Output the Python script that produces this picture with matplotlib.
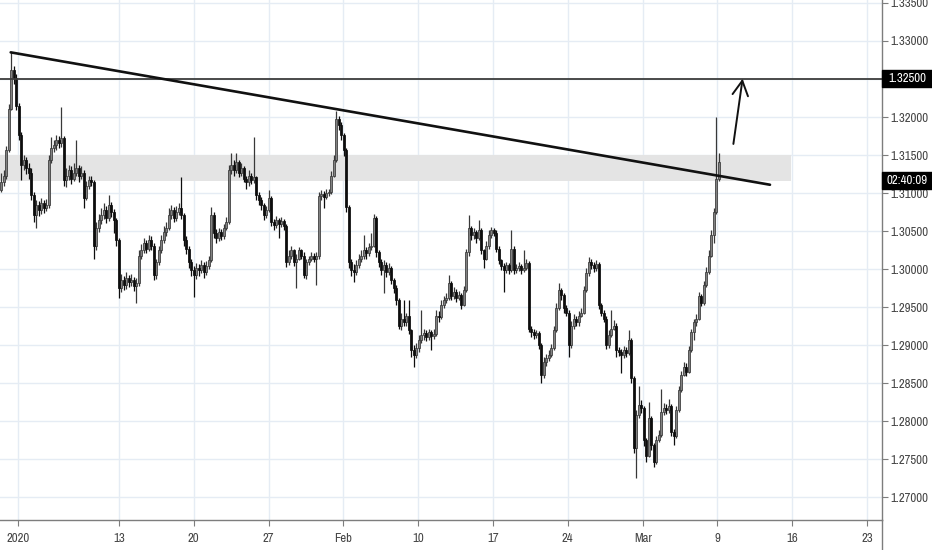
import matplotlib
matplotlib.use("Agg")
import matplotlib.pyplot as plt
import matplotlib.transforms as mtransforms
from matplotlib.patches import Rectangle
from matplotlib import font_manager
import numpy as np

# ---------------- data (GBPUSD, 4H bars) ----------------
first_open = 1.3104
closes = [
 1.3114,1.3123,1.3157,1.3211,1.3262,1.3251,1.3215,1.3176,1.3137,1.3144,
 1.3133,1.3127,1.3097,1.3071,1.3084,1.3078,1.3087,1.3080,1.3084,1.3144,
 1.3159,1.3163,1.3170,1.3166,1.3172,1.3117,1.3123,1.3130,1.3119,1.3127,
 1.3133,1.3123,1.3127,1.3093,1.3110,1.3117,1.3114,1.3030,1.3054,1.3065,
 1.3071,1.3078,1.3067,1.3084,1.3075,1.3065,1.3038,1.2975,1.2986,1.2979,
 1.2988,1.2983,1.2986,1.2978,1.2982,1.3018,1.3025,1.3034,1.3027,1.3038,
 1.3031,1.2992,1.3009,1.3025,1.3038,1.3049,1.3054,1.3071,1.3078,1.3067,
 1.3075,1.3080,1.3071,1.3038,1.3027,1.3009,1.2999,1.2992,1.3001,1.2999,
 1.3005,1.2996,1.3004,1.3012,1.3071,1.3048,1.3041,1.3049,1.3044,1.3054,
 1.3062,1.3130,1.3137,1.3130,1.3141,1.3127,1.3133,1.3119,1.3114,1.3123,
 1.3117,1.3121,1.3097,1.3091,1.3084,1.3071,1.3078,1.3093,1.3062,1.3058,
 1.3065,1.3060,1.3064,1.3057,1.3009,1.3018,1.3025,1.3009,1.3014,1.3025,
 1.3018,1.2992,1.3009,1.3014,1.3018,1.3014,1.3017,1.3096,1.3099,1.3095,
 1.3100,1.3101,1.3123,1.3144,1.3198,1.3189,1.3176,1.3157,1.3082,1.3009,
 1.2999,1.2996,1.3005,1.3014,1.3018,1.3025,1.3021,1.3029,1.3031,1.3067,
 1.3022,1.3009,1.2999,1.3005,1.2996,1.3001,1.2986,1.2975,1.2960,1.2926,
 1.2935,1.2930,1.2938,1.2920,1.2894,1.2887,1.2896,1.2907,1.2913,1.2916,
 1.2911,1.2917,1.2912,1.2915,1.2939,1.2937,1.2953,1.2960,1.2962,1.2982,
 1.2965,1.2970,1.2962,1.2966,1.2953,1.2973,1.3022,1.3054,1.3045,1.3049,
 1.3041,1.3052,1.3025,1.3014,1.3031,1.3045,1.3051,1.3048,1.3027,1.3012,
 1.3004,1.2999,1.3005,1.2999,1.3027,1.2999,1.3001,1.3004,1.2999,1.3001,
 1.3008,1.2922,1.2917,1.2913,1.2916,1.2900,1.2861,1.2878,1.2883,1.2887,
 1.2896,1.2920,1.2949,1.2973,1.2966,1.2949,1.2943,1.2900,1.2926,1.2935,
 1.2930,1.2939,1.2943,1.2973,1.2995,1.3009,1.3005,1.3001,1.3007,1.2953,
 1.2943,1.2935,1.2900,1.2913,1.2922,1.2926,1.2894,1.2891,1.2887,1.2894,
 1.2890,1.2907,1.2857,1.2765,1.2808,1.2821,1.2817,1.2776,1.2755,1.2804,
 1.2769,1.2746,1.2776,1.2782,1.2812,1.2817,1.2815,1.2820,1.2786,1.2781,
 1.2815,1.2841,1.2861,1.2872,1.2865,1.2894,1.2917,1.2930,1.2935,1.2965,
 1.2956,1.2979,1.2996,1.3018,1.3045,1.3075,1.3119,1.3141,
]
highs = [
 1.3126,1.3130,1.3162,1.3217,1.3285,1.3267,1.3257,1.3219,1.3180,1.3150,
 1.3148,1.3140,1.3133,1.3101,1.3091,1.3090,1.3093,1.3091,1.3092,1.3150,
 1.3174,1.3170,1.3176,1.3175,1.3213,1.3175,1.3133,1.3137,1.3136,1.3140,
 1.3170,1.3137,1.3136,1.3130,1.3116,1.3122,1.3123,1.3117,1.3062,1.3073,
 1.3080,1.3087,1.3083,1.3097,1.3088,1.3079,1.3067,1.3041,1.2994,1.2991,
 1.2996,1.2992,1.2994,1.2990,1.2988,1.3025,1.3033,1.3041,1.3038,1.3045,
 1.3043,1.3035,1.3014,1.3030,1.3045,1.3057,1.3062,1.3080,1.3084,1.3082,
 1.3083,1.3087,1.3121,1.3074,1.3043,1.3030,1.3014,1.3004,1.3008,1.3007,
 1.3012,1.3009,1.3011,1.3018,1.3082,1.3075,1.3053,1.3054,1.3053,1.3060,
 1.3069,1.3137,1.3153,1.3143,1.3153,1.3144,1.3140,1.3136,1.3123,1.3130,
 1.3127,1.3174,1.3123,1.3101,1.3095,1.3087,1.3083,1.3104,1.3096,1.3066,
 1.3070,1.3067,1.3069,1.3066,1.3060,1.3025,1.3030,1.3027,1.3020,1.3029,
 1.3027,1.3022,1.3014,1.3018,1.3022,1.3021,1.3022,1.3101,1.3104,1.3103,
 1.3105,1.3106,1.3129,1.3150,1.3208,1.3202,1.3193,1.3179,1.3159,1.3084,
 1.3014,1.3007,1.3012,1.3020,1.3025,1.3045,1.3029,1.3034,1.3048,1.3073,
 1.3070,1.3025,1.3013,1.3012,1.3009,1.3008,1.3004,1.2988,1.2979,1.2962,
 1.2942,1.2960,1.2943,1.2960,1.2922,1.2900,1.2903,1.2913,1.2946,1.2921,
 1.2920,1.2922,1.2920,1.2921,1.2946,1.2945,1.2960,1.2965,1.2969,1.2992,
 1.2985,1.2977,1.2974,1.2972,1.2969,1.2978,1.3027,1.3071,1.3057,1.3054,
 1.3052,1.3065,1.3054,1.3027,1.3037,1.3051,1.3056,1.3054,1.3051,1.3030,
 1.3014,1.3008,1.3009,1.3008,1.3051,1.3030,1.3007,1.3009,1.3007,1.3025,
 1.3013,1.3011,1.2925,1.2921,1.2920,1.2919,1.2903,1.2885,1.2889,1.2894,
 1.2902,1.2925,1.2955,1.2982,1.2975,1.2969,1.2953,1.2946,1.2932,1.2941,
 1.2939,1.2945,1.2949,1.2978,1.3001,1.3016,1.3014,1.3009,1.3012,1.3009,
 1.2956,1.2947,1.2938,1.2920,1.2946,1.2933,1.2929,1.2898,1.2895,1.2899,
 1.2898,1.2920,1.2909,1.2860,1.2815,1.2847,1.2828,1.2820,1.2778,1.2825,
 1.2807,1.2772,1.2781,1.2789,1.2843,1.2824,1.2823,1.2830,1.2823,1.2790,
 1.2820,1.2846,1.2866,1.2878,1.2877,1.2899,1.2922,1.2935,1.2941,1.2970,
 1.2968,1.2985,1.3003,1.3025,1.3052,1.3080,1.3200,1.3153,
]
lows = [
 1.3101,1.3109,1.3119,1.3154,1.3209,1.3244,1.3209,1.3170,1.3117,1.3130,
 1.3125,1.3119,1.3091,1.3062,1.3054,1.3070,1.3073,1.3074,1.3077,1.3080,
 1.3140,1.3154,1.3157,1.3159,1.3161,1.3110,1.3108,1.3117,1.3112,1.3116,
 1.3122,1.3114,1.3118,1.3080,1.3091,1.3106,1.3109,1.3014,1.3025,1.3049,
 1.3060,1.3066,1.3061,1.3064,1.3069,1.3048,1.3031,1.2962,1.2970,1.2973,
 1.2974,1.2977,1.2978,1.2972,1.2956,1.2978,1.3013,1.3021,1.3021,1.3024,
 1.3025,1.2986,1.2987,1.3005,1.3021,1.3034,1.3044,1.3051,1.3066,1.3062,
 1.3064,1.3071,1.3066,1.3031,1.3020,1.3001,1.2991,1.2964,1.2987,1.2991,
 1.2995,1.2988,1.2992,1.3000,1.3009,1.3041,1.3034,1.3037,1.3038,1.3040,
 1.3051,1.3060,1.3125,1.3123,1.3126,1.3121,1.3122,1.3114,1.3106,1.3110,
 1.3112,1.3113,1.3091,1.3084,1.3078,1.3065,1.3067,1.3075,1.3057,1.3052,
 1.3054,1.3041,1.3056,1.3052,1.3003,1.3005,1.3014,1.3004,1.2975,1.3012,
 1.3013,1.2988,1.2987,1.3005,1.3011,1.3009,1.2979,1.3014,1.3091,1.3080,
 1.3092,1.3096,1.3099,1.3121,1.3141,1.3183,1.3170,1.3149,1.3075,1.3001,
 1.2991,1.2983,1.2992,1.3001,1.3009,1.3014,1.3014,1.3017,1.3025,1.3029,
 1.3016,1.3003,1.2992,1.2969,1.2990,1.2992,1.2981,1.2969,1.2953,1.2921,
 1.2920,1.2925,1.2926,1.2915,1.2885,1.2872,1.2883,1.2891,1.2903,1.2907,
 1.2906,1.2907,1.2894,1.2908,1.2912,1.2930,1.2934,1.2949,1.2955,1.2960,
 1.2960,1.2961,1.2957,1.2959,1.2948,1.2951,1.2970,1.3018,1.3038,1.3040,
 1.3035,1.3038,1.3020,1.3001,1.3012,1.3027,1.3041,1.3043,1.3022,1.3007,
 1.2999,1.2970,1.2995,1.2994,1.2996,1.2994,1.2995,1.2998,1.2994,1.2996,
 1.2999,1.2917,1.2911,1.2908,1.2909,1.2895,1.2850,1.2857,1.2873,1.2880,
 1.2885,1.2894,1.2917,1.2946,1.2960,1.2943,1.2938,1.2885,1.2897,1.2922,
 1.2925,1.2926,1.2937,1.2941,1.2970,1.2991,1.3000,1.2996,1.2998,1.2948,
 1.2938,1.2930,1.2895,1.2897,1.2911,1.2920,1.2885,1.2886,1.2864,1.2883,
 1.2885,1.2887,1.2851,1.2759,1.2725,1.2804,1.2811,1.2768,1.2746,1.2753,
 1.2762,1.2740,1.2744,1.2773,1.2780,1.2808,1.2810,1.2811,1.2781,1.2769,
 1.2778,1.2812,1.2838,1.2859,1.2860,1.2863,1.2891,1.2907,1.2926,1.2933,
 1.2951,1.2953,1.2977,1.2994,1.3016,1.3035,1.3073,1.3116,
]
opens = [first_open] + closes[:-1]

tick_labels = ["2020", "13", "20", "27", "Feb", "10", "17", "24", "Mar", "9", "16", "23"]
tick_bars = [6.7, 47.1, 77.0, 107.0, 136.9, 166.8, 196.7, 226.6, 256.6, 286.5, 316.4, 346.3]

price_ticks = [1.270, 1.275, 1.280, 1.285, 1.290, 1.295, 1.300, 1.305,
               1.310, 1.315, 1.320, 1.325, 1.330, 1.335]

resistance_level = 1.32500
zone_low, zone_high = 1.3116, 1.3150
zone_end_bar = 316.0
trend_end_bar, trend_end_price = 307.5, 1.3111
arrow_start = (292.7, 1.3161)
arrow_end = (296.7, 1.3254)
countdown_text = "02:40:09"
countdown_price = 1.3117

# ---------------- style ----------------
fonts = font_manager.fontManager.ttflist
avail = {f.name for f in fonts}
narrow = None
for f in fonts:
    nm = f.name
    if ("Narrow" in nm or "Condensed" in nm) and "Bold" not in nm and "Italic" not in nm:
        narrow = nm
        break
cond_stretch = None
if narrow is None:
    for f in fonts:
        if f.name in ("Noto Sans", "Open Sans", "Roboto") and str(f.stretch) in (
                "condensed", "semi-condensed", "500", "625", "750", "extra-condensed") \
                and f.weight in (400, "normal", "regular") and f.style == "normal":
            narrow = f.name
            cond_stretch = f.stretch
            break
fam = ([narrow] if narrow else []) + [f for f in ["Liberation Sans", "DejaVu Sans"] if f in avail]
plt.rcParams["font.family"] = fam
if cond_stretch is not None:
    plt.rcParams["font.stretch"] = cond_stretch
label_size = 9.2 if narrow else 7.4

W, H = 932, 550
fig = plt.figure(figsize=(W / 100, H / 100), dpi=100)
fig.patch.set_facecolor("white")
ax = fig.add_axes([0, 30 / H, 882 / W, 520 / H])
ax.set_facecolor("white")

n = len(closes)
x = np.arange(n)
o = np.array(opens); c = np.array(closes); h = np.array(highs); l = np.array(lows)
up = c >= o

up_face, up_edge = "#828282", "#383838"
dn_face = "#0d0d0d"

# wicks
ax.vlines(x[up], l[up], h[up], color=up_edge, lw=0.9, zorder=3)
ax.vlines(x[~up], l[~up], h[~up], color=dn_face, lw=0.9, zorder=3)
# bodies
body_bot = np.minimum(o, c)
body_h = np.maximum(np.abs(c - o), 0.00005)
bw = 0.9
ax.bar(x[up], body_h[up], bottom=body_bot[up], width=bw, color=up_face,
       edgecolor=up_edge, linewidth=0.55, zorder=4)
ax.bar(x[~up], body_h[~up], bottom=body_bot[~up], width=bw, color=dn_face,
       edgecolor=dn_face, linewidth=0.55, zorder=4)

# axes limits (price scale)
ax.set_xlim(-0.48, 352.3)
ax.set_ylim(1.26704, 1.33538)

# grid
grid_c = "#e5ecf4"
for tb in tick_bars:
    ax.axvline(tb, color=grid_c, lw=1, zorder=0)
for pt in price_ticks:
    ax.axhline(pt, color=grid_c, lw=1, zorder=0)

# zone
ax.add_patch(Rectangle((-0.48, zone_low), zone_end_bar + 0.48, zone_high - zone_low,
                       facecolor="#e4e4e4", edgecolor="none", zorder=1))

# resistance line
ax.axhline(resistance_level, color="#3c3c3c", lw=1.3, zorder=5)

# trend line from the highest high
i_peak = int(np.argmax(h))
ax.plot([i_peak - 0.2, trend_end_bar], [h[i_peak], trend_end_price],
        color="#111111", lw=1.9, solid_capstyle="round", zorder=6)

# arrow
ax.annotate("", xy=arrow_end, xytext=arrow_start,
            arrowprops=dict(arrowstyle="->,head_length=0.75,head_width=0.4",
                            color="#111111", lw=1.4, mutation_scale=14),
            zorder=7)

# ticks / spines
for s in ["top", "left"]:
    ax.spines[s].set_visible(False)
axis_c = "#7d7d7d"
ax.spines["right"].set_color(axis_c)
ax.spines["bottom"].set_color(axis_c)
ax.spines["right"].set_linewidth(1)
ax.spines["bottom"].set_linewidth(1)

ax.yaxis.tick_right()
ax.set_yticks(price_ticks)
# the 1.32500 tick label is shown in the highlighted box instead
ax.set_yticklabels(["" if abs(p - resistance_level) < 1e-9 else f"{p:.5f}" for p in price_ticks])
ax.set_xticks(tick_bars)
ax.set_xticklabels(tick_labels)
ax.tick_params(axis="y", direction="out", length=4, width=0.8, color=axis_c,
               labelsize=label_size, labelcolor="#454545", pad=2)
ax.tick_params(axis="x", direction="out", length=4, width=0.8, color=axis_c,
               labelsize=label_size, labelcolor="#454545", pad=5)

# extend price axis line to bottom of figure
ax.plot([1, 1], [0, -30 / 520], transform=ax.transAxes, color=axis_c, lw=1, clip_on=False)

# label boxes on price axis
blend = mtransforms.blended_transform_factory(ax.transAxes, ax.transData)
box_w = 50 / 882
half_h = 8.5 / 520 * (1.33538 - 1.26704)
for price, txt in [(resistance_level, f"{resistance_level:.5f}"), (countdown_price, countdown_text)]:
    ax.add_patch(Rectangle((1.0, price - half_h), box_w, 2 * half_h, transform=blend,
                           facecolor="black", edgecolor="black", clip_on=False, zorder=10))
    ax.text(1.0 + 25 / 882, price, txt, transform=blend, ha="center", va="center",
            color="white", fontsize=label_size, zorder=11, clip_on=False)

fig.savefig("out.png", dpi=100, facecolor="white")
